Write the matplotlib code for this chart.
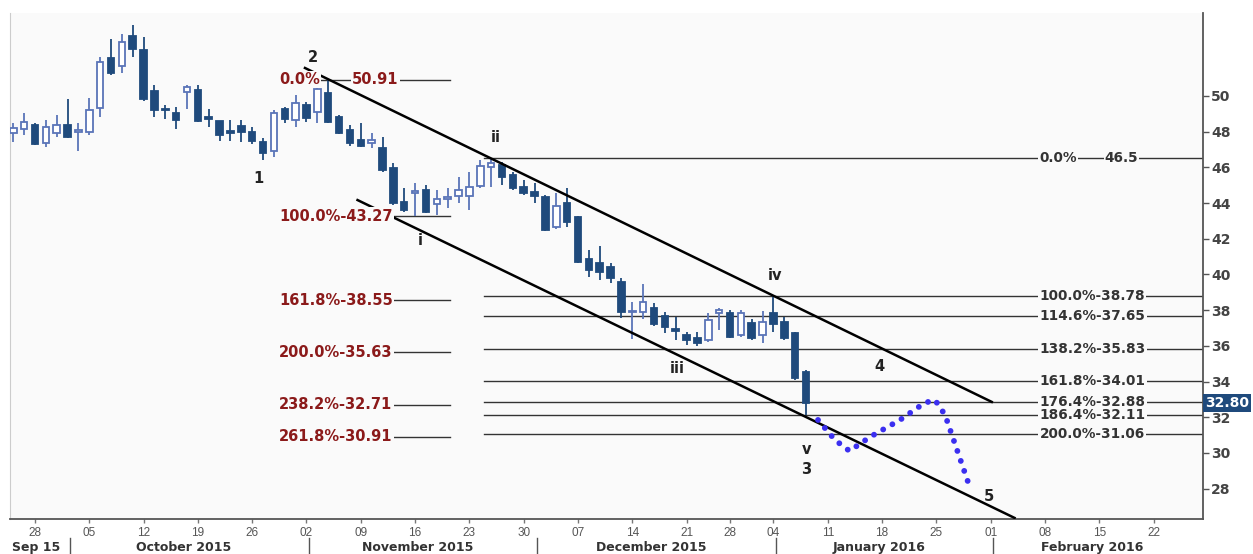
import numpy as np
import pandas as pd
import matplotlib
matplotlib.use('Agg')
import matplotlib.pyplot as plt
from matplotlib.patches import Rectangle
from matplotlib.transforms import blended_transform_factory

# daily candles, starting 2015-09-24 (trading days)
start_date = '2015-09-24'
holidays = ['2015-12-25', '2016-01-01']

opens = [47.93, 48.15, 48.37, 47.37, 47.93, 48.37, 47.98, 47.98, 49.33, 52.13,
         51.7, 53.36, 52.6, 50.28, 49.27, 49.05, 50.22, 50.34, 48.82, 48.6,
         48.0, 48.3, 47.98, 47.42, 46.9, 49.27, 48.65, 49.5, 49.1, 50.17,
         48.82, 48.1, 47.54, 47.37, 47.08, 45.97, 44.06, 44.57, 44.74, 43.95,
         44.23, 44.4, 44.4, 44.96, 46.0, 46.13, 45.57, 44.9, 44.62, 44.34,
         42.66, 44.0, 43.22, 40.87, 40.64, 40.42, 39.58, 37.9, 37.9, 38.12,
         37.68, 36.95, 36.6, 36.44, 36.33, 37.84, 37.84, 36.6, 37.28, 36.6,
         37.84, 37.34, 36.72, 34.54]
closes = [48.2, 48.54, 47.31, 48.26, 48.37, 47.7, 48.1, 49.2, 51.9, 51.29,
          53.0, 52.63, 49.83, 49.2, 49.2, 48.66, 50.5, 48.6, 48.71, 47.8,
          47.95, 47.98, 47.48, 46.8, 49.05, 48.7, 49.6, 48.77, 50.4, 48.54,
          47.93, 47.37, 47.2, 47.54, 45.85, 44.0, 43.6, 44.68, 43.5, 44.23,
          44.34, 44.74, 44.9, 46.08, 46.25, 45.46, 44.85, 44.57, 44.4, 42.5,
          43.84, 42.94, 40.7, 40.25, 40.14, 39.8, 37.9, 37.95, 38.46, 37.23,
          37.06, 36.85, 36.33, 36.16, 37.45, 38.0, 36.5, 37.84, 36.44, 37.34,
          37.23, 36.44, 34.2, 32.80]
highs = [48.49, 49.05, 48.49, 48.65, 48.94, 49.83, 48.5, 49.9, 52.2, 53.2,
         53.5, 54.0, 53.3, 50.6, 49.5, 49.4, 50.6, 50.6, 49.27, 48.6,
         48.65, 48.65, 48.26, 47.65, 49.2, 49.38, 50.05, 49.66, 50.45, 50.91,
         48.94, 48.37, 48.49, 47.93, 47.7, 46.25, 44.85, 45.1, 45.0, 44.74,
         44.85, 45.46, 45.74, 46.4, 46.5, 46.3, 45.74, 45.3, 45.1, 44.45,
         44.57, 44.85, 43.27, 41.37, 41.6, 40.64, 39.8, 38.46, 39.47, 38.4,
         37.9, 37.6, 36.78, 36.78, 37.84, 38.12, 38.0, 38.0, 37.5, 37.95,
         38.78, 37.62, 36.78, 34.65]
lows = [47.42, 47.8, 47.25, 47.14, 47.7, 47.65, 46.9, 47.8, 48.8, 51.2,
        51.3, 52.2, 49.7, 48.8, 48.7, 48.15, 49.27, 48.54, 48.26, 47.48,
        47.5, 47.4, 47.3, 46.4, 46.6, 48.49, 48.26, 48.54, 48.5, 48.5,
        47.87, 47.2, 47.14, 47.08, 45.74, 43.9, 43.5, 43.27, 43.44, 43.33,
        43.72, 44.0, 43.6, 44.85, 44.9, 45.0, 44.73, 44.45, 44.0, 42.44,
        42.55, 42.66, 40.64, 39.86, 39.7, 39.52, 37.56, 36.4, 37.5, 37.1,
        36.72, 36.33, 36.05, 36.0, 36.22, 36.9, 36.44, 36.5, 36.33, 36.16,
        36.78, 36.33, 34.1, 32.11]

last_price = 32.80

# fibonacci levels
left_pcts = ['0.0%', '100.0%', '161.8%', '200.0%', '238.2%', '261.8%']
left_levels = [50.91, 43.27, 38.55, 35.63, 32.71, 30.91]
right_pcts = ['0.0%', '100.0%', '114.6%', '138.2%', '161.8%', '176.4%', '186.4%', '200.0%']
right_levels = [46.5, 38.78, 37.65, 35.83, 34.01, 32.88, 32.11, 31.06]

# channel lines (trading-day index, price)
upper_x = [26.86, 90.1]
upper_y = [51.57, 32.86]
lower_x = [31.7, 92.2]
lower_y = [44.17, 26.36]

# projected path (dotted)
proj_x = [74.1, 75.66, 77.0, 78.9, 81.65, 83.9, 84.87, 85.8, 88.1]
proj_y = [31.85, 30.73, 30.11, 30.9, 31.85, 32.8, 32.97, 32.13, 28.04]

# elliott wave labels
wave_text = ['2', '1', 'ii', 'i', 'iii', 'iv', 'v', '3', '4', '5']
wave_x = [27.6, 22.6, 44.45, 37.45, 61.1, 70.1, 73.0, 73.0, 79.8, 89.8]
wave_y = [52.13, 45.4, 47.65, 41.88, 34.76, 39.92, 30.22, 29.05, 34.87, 27.54]

tick_dates = ['2015-09-28', '2015-10-05', '2015-10-12', '2015-10-19', '2015-10-26',
              '2015-11-02', '2015-11-09', '2015-11-16', '2015-11-23', '2015-11-30',
              '2015-12-07', '2015-12-14', '2015-12-21', '2015-12-28', '2016-01-04',
              '2016-01-11', '2016-01-18', '2016-01-25', '2016-02-01', '2016-02-08',
              '2016-02-15', '2016-02-22']
month_starts = ['2015-10-01', '2015-11-02', '2015-12-01', '2016-01-04', '2016-02-01']
month_names = ['Sep 15', 'October 2015', 'November 2015', 'December 2015',
               'January 2016', 'February 2016']

cal = pd.bdate_range(start_date, '2016-03-31')
cal = cal.drop(pd.to_datetime(holidays))

W, H = 1253, 554
fig = plt.figure(figsize=(W / 100, H / 100), dpi=100)
fig.patch.set_facecolor('white')
ax = fig.add_axes([10 / W, (H - 519) / H, (1203 - 10) / W, (519 - 13) / H])
bg = '#fafafa'
ax.set_facecolor(bg)
ax.set_xlim(-0.30, 109.55)
ax.set_ylim(26.30, 54.65)

# candles
up_col = '#5a74b8'
dn_col = '#1f4a7c'
for i in range(len(opens)):
    o, h, l, c = opens[i], highs[i], lows[i], closes[i]
    col = up_col if c >= o else dn_col
    ax.plot([i, i], [l, h], color=col, lw=1.3, zorder=3, solid_capstyle='butt')
    bot = min(o, c)
    hgt = max(abs(c - o), 0.08)
    face = 'white' if c >= o else dn_col
    ax.add_patch(Rectangle((i - 0.3, bot), 0.6, hgt, facecolor=face,
                           edgecolor=col, lw=1.3, zorder=4))

# channel
ax.plot(upper_x, upper_y, color='black', lw=1.8, zorder=5)
ax.plot(lower_x, lower_y, color='black', lw=1.8, zorder=5)

box = dict(boxstyle='square,pad=0.08', fc=bg, ec='none')

# fib lines left
red = '#8b1a1a'
for pct, lev in zip(left_pcts, left_levels):
    ax.plot([24.5, 40.2], [lev, lev], color='#333333', lw=1.0, zorder=2)
    if pct == '0.0%':
        ax.text(24.5, lev, pct, color=red, fontsize=10.5, fontweight='bold',
                ha='left', va='center', zorder=6, bbox=box)
        ax.text(31.2, lev, '%.2f' % lev, color=red, fontsize=10.5, fontweight='bold',
                ha='left', va='center', zorder=6, bbox=box)
    else:
        ax.text(24.5, lev, '%s-%.2f' % (pct, lev), color=red, fontsize=10.5,
                fontweight='bold', ha='left', va='center', zorder=6, bbox=box)

# fib lines right
for pct, lev in zip(right_pcts, right_levels):
    ax.plot([43.3, 109.55], [lev, lev], color='#333333', lw=1.0, zorder=2)
    if pct == '0.0%':
        ax.text(94.5, lev, pct, color='#333333', fontsize=9.8, fontweight='bold',
                ha='left', va='center', zorder=6, bbox=box)
        ax.text(100.5, lev, '%g' % lev, color='#333333', fontsize=9.8, fontweight='bold',
                ha='left', va='center', zorder=6, bbox=box)
    else:
        ax.text(94.5, lev, '%s-%.2f' % (pct, lev), color='#333333', fontsize=9.8,
                fontweight='bold', ha='left', va='center', zorder=6, bbox=box)

# projection
ax.plot(proj_x, proj_y, color='#3b2ff0', lw=4.2, linestyle=(0, (0.01, 1.8)),
        dash_capstyle='round', zorder=5)

for t, x, y in zip(wave_text, wave_x, wave_y):
    ax.text(x, y, t, color='#222222', fontsize=10.5, fontweight='bold',
            ha='center', va='center', zorder=7)

# axes styling
ax.spines['top'].set_visible(False)
ax.spines['left'].set_color('#cccccc')
ax.spines['right'].set_color('#555555')
ax.spines['right'].set_linewidth(1.3)
ax.spines['bottom'].set_color('#555555')
ax.spines['bottom'].set_linewidth(1.3)

ax.yaxis.tick_right()
ax.set_yticks(range(28, 51, 2))
ax.tick_params(axis='y', length=4, width=1, colors='#555555', labelsize=10, pad=2)
for lab in ax.get_yticklabels():
    lab.set_fontweight('bold')
    lab.set_color('#444444')

tick_pos = [cal.get_loc(pd.Timestamp(d)) for d in tick_dates]
ax.set_xticks(tick_pos)
ax.set_xticklabels([pd.Timestamp(d).strftime('%d') for d in tick_dates])
ax.tick_params(axis='x', length=3, width=1, colors='#777777', labelsize=8.5, pad=3)
for lab in ax.get_xticklabels():
    lab.set_family('Liberation Sans')
    lab.set_color('#555555')

# price marker
tr = blended_transform_factory(ax.transAxes, ax.transData)
ax.text(1.002, last_price, '%.2f' % last_price, transform=tr, color='white',
        fontsize=10, fontweight='bold', ha='left', va='center', clip_on=False,
        zorder=8, bbox=dict(boxstyle='square,pad=0.15', fc=dn_col, ec='none'))

# month row
trx = blended_transform_factory(ax.transData, ax.transAxes)
sep = [cal.get_loc(pd.Timestamp(d)) + 0.2 for d in month_starts]
for s in sep:
    ax.plot([s, s], [-0.037, -0.075], color='#555555', lw=1.0, transform=trx,
            clip_on=False)
edges = [ax.get_xlim()[0]] + sep + [ax.get_xlim()[1]]
for k, name in enumerate(month_names):
    if k == 0:
        ax.text(edges[0] + 0.2, -0.057, name, transform=trx, fontsize=9,
                fontweight='bold', color='#333333', ha='left', va='center')
    else:
        ax.text((edges[k] + edges[k + 1]) / 2 - 0.5, -0.057, name, transform=trx,
                fontsize=9, fontweight='bold', color='#333333', ha='center',
                va='center')

fig.savefig('out.png', dpi=100, facecolor=fig.get_facecolor())
